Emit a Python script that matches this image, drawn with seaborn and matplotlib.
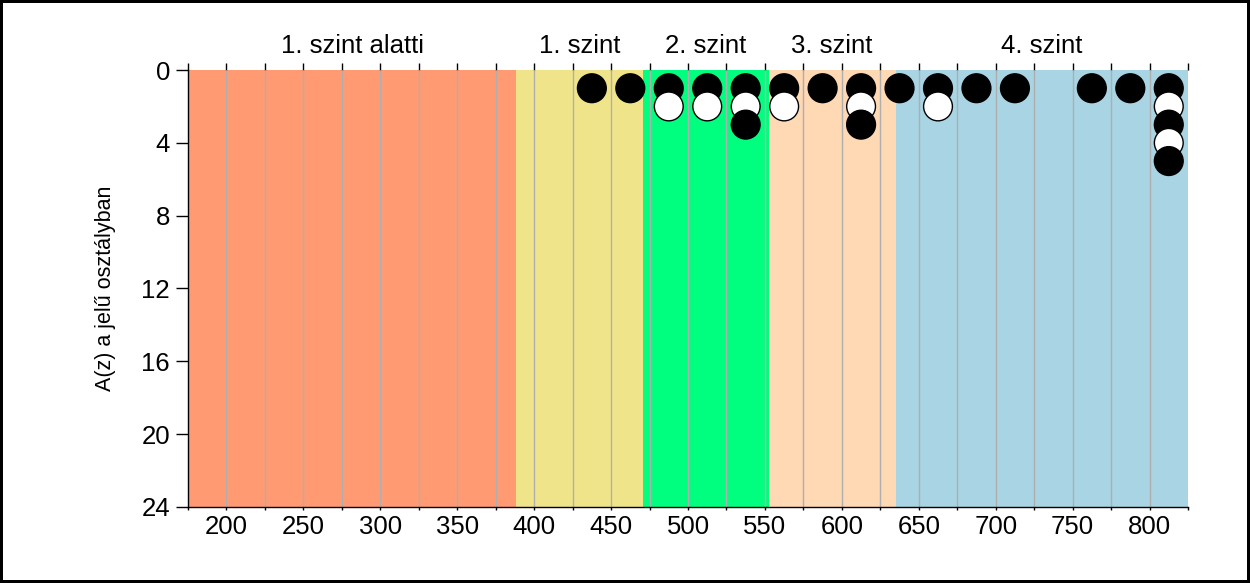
import matplotlib
matplotlib.use("Agg")
import matplotlib.pyplot as plt
import seaborn as sns
import pandas as pd
import numpy as np

# ---- data ----
level_names = ["1. szint alatti", "1. szint", "2. szint", "3. szint", "4. szint"]
level_edges = [175, 388.5, 470.8, 552.4, 634.9, 825]
level_colors = ["#FF9A73", "#F0E48A", "#00FF7F", "#FFD8B4", "#A8D4E4"]

bin_centers = [437.5, 462.5, 487.5, 512.5, 537.5, 562.5, 587.5, 612.5,
               637.5, 662.5, 687.5, 712.5, 762.5, 787.5, 812.5]
stacks = ["B", "B", "BW", "BW", "BWB", "BW", "B", "BWB",
          "B", "BW", "B", "B", "B", "B", "BWBWB"]

x_ticks = list(range(175, 826, 25))
x_labels = [str(v) if v % 50 == 0 else "" for v in x_ticks]
y_ticks = [0, 4, 8, 12, 16, 20, 24]

rows = []
for xc, st in zip(bin_centers, stacks):
    for i, c in enumerate(st):
        rows.append({"x": xc, "y": i + 1, "c": c})
df = pd.DataFrame(rows).sort_values("y", kind="stable")

# ---- figure ----
sns.set_theme(style="white")
plt.rcParams["font.family"] = ["Liberation Sans", "DejaVu Sans"]
plt.rcParams["text.color"] = "black"
plt.rcParams["axes.labelcolor"] = "black"
plt.rcParams["xtick.color"] = "black"
plt.rcParams["ytick.color"] = "black"

fig = plt.figure(figsize=(12.5, 5.83), dpi=100)
fig.patch.set_facecolor("white")
fig.patch.set_edgecolor("black")
fig.patch.set_linewidth(4)
ax = fig.add_axes([0.1504, 0.1304, 0.8, 0.7495])

for i in range(len(level_names)):
    ax.axvspan(level_edges[i], level_edges[i + 1], color=level_colors[i], lw=0, zorder=0)
    ax.text((level_edges[i] + level_edges[i + 1]) / 2, 1.055, level_names[i],
            transform=ax.get_xaxis_transform(), ha="center", va="center",
            fontsize=18.5, color="black")

grid_x = [v for v in x_ticks if level_edges[0] < v < level_edges[-1]]
ax.vlines(grid_x, 0, 24, color="#AFAFAF", lw=1, zorder=1)

sns.scatterplot(data=df, x="x", y="y", hue="c",
                palette={"B": "black", "W": "white"},
                s=430, edgecolor="black", linewidth=1, legend=False,
                zorder=3, ax=ax)

ax.set_xlim(level_edges[0], level_edges[-1])
ax.set_ylim(24, 0)
ax.set_xticks(x_ticks)
ax.set_xticklabels(x_labels)
ax.set_yticks(y_ticks)
ax.set_xlabel("")
ax.set_ylabel("A(z) a jelű osztályban", fontsize=15.5, color="black")
ax.yaxis.set_label_coords(-0.072, 0.5)

for s in ["top", "right"]:
    ax.spines[s].set_visible(False)
for s in ["left", "bottom"]:
    ax.spines[s].set_color("black")
    ax.spines[s].set_linewidth(1)
    ax.spines[s].set_zorder(4)

ax.tick_params(axis="x", bottom=True, direction="out", length=2.5, width=1,
               color="black", labelcolor="black", labelsize=18.5, pad=3)
ax.tick_params(axis="y", left=True, direction="out", length=9, width=1,
               color="black", labelcolor="black", labelsize=18.5, pad=4)

top = ax.secondary_xaxis("top")
top.set_xticks(x_ticks)
top.set_xticklabels([])
top.tick_params(axis="x", direction="out", length=5, width=1, color="black")
top.spines["top"].set_visible(False)

fig.savefig("out.png", dpi=100)
